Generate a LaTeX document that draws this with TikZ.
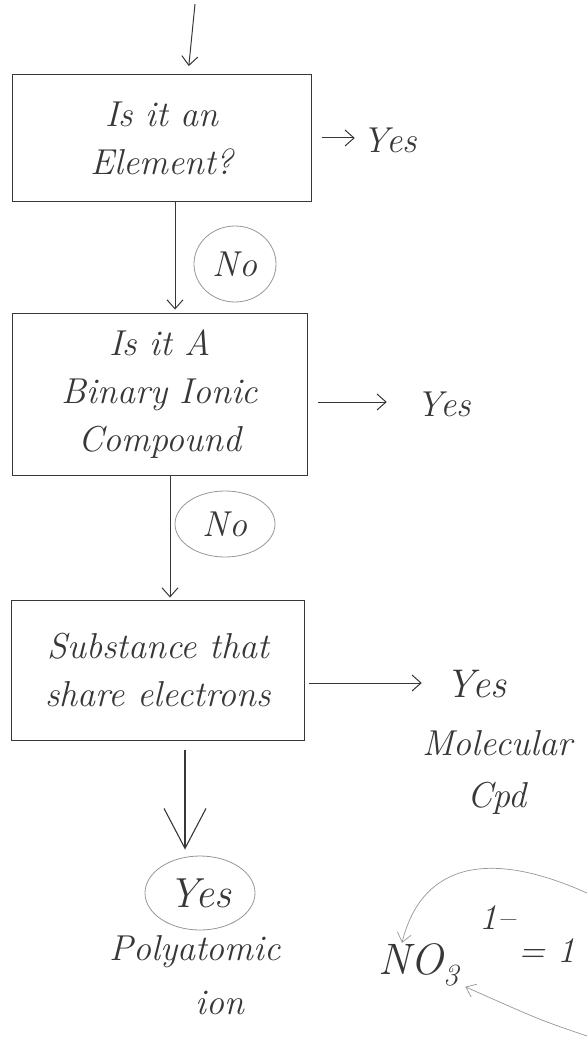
\documentclass[tikz,border=0pt]{standalone}
\usepackage{fontspec}
\usepackage{tikz}
\usetikzlibrary{arrows.meta,positioning,calc,shapes.geometric}
\definecolor{inkgray}{RGB}{55,55,55}
\definecolor{pencilgray}{RGB}{150,150,150}
\newcommand\handfont{\fontsize{36}{48}\selectfont\itshape\addfontfeatures{LetterSpace=6}}
\tikzset{
  qbox/.style={draw=inkgray,line width=0.9pt,align=center,inner sep=0pt,font=\handfont,text=inkgray},
  handtext/.style={align=center,inner sep=0pt,font=\handfont,text=inkgray},
  ring/.style={handtext,ellipse,draw=pencilgray,line width=0.8pt},
  flow/.style={-{Straight Barb[length=9pt,width=16pt]},line width=1pt,draw=inkgray},
  bigflow/.style={-{Straight Barb[length=40pt,width=42pt]},line width=1.1pt,draw=inkgray},
  penarrow/.style={-{Straight Barb[length=9pt,width=14pt]},line width=0.7pt,draw=pencilgray}
}

\begin{document}
\begin{tikzpicture}[x=1pt,y=-1pt]
  \useasboundingbox (0,0) rectangle (587,1051);
  % question boxes
  \node[qbox,minimum width=299pt,minimum height=127pt] (elem) at (162,138) {Is it an\\Element?};
  \node[qbox,minimum width=295pt,minimum height=162pt] (binary) at (160,394) {Is it A\\Binary Ionic\\Compound};
  \node[qbox,minimum width=293pt,minimum height=140pt] (share) at (158,670) {Substance that\\share electrons};
  % answers
  \node[handtext] (yes1) at (390,140) {Yes};
  \node[handtext] (yes2) at (444,404) {Yes};
  \node[handtext,font=\handfont\fontsize{40}{48}\selectfont] (yes3) at (476,684) {Yes};
  \node[handtext] (molcpd) at (497,772) {Molecular\\[4pt]Cpd};
  \node[ring,minimum width=82pt,minimum height=76pt] (no1) at (235,264) {No};
  \node[ring,minimum width=100pt,minimum height=66pt] (no2) at (225,524) {No};
  \node[ring,minimum width=110pt,minimum height=74pt,font=\handfont\fontsize{42}{48}\selectfont] (yes4) at (200,893) {Yes};
  \node[handtext] (poly) at (195,952) {Polyatomic};
  \node[handtext] (ion) at (220,1003) {ion};
  \node[handtext,anchor=base west,font=\handfont\fontsize{44}{48}\selectfont] (nitrate) at (378,974) {NO\textsubscript{3}};
  \node[handtext] (charge) at (497,918) {1--};
  \node[handtext,anchor=base west] (eqone) at (518,962) {= 1};
  \coordinate (entry) at (195,4);
  \coordinate (loopa) at (587,893);
  \coordinate (loopb) at (587,1036);
  % flow
  \draw[flow,shorten >=8pt] (entry) -- ([xshift=26pt]elem.north);
  \draw[flow,shorten >=3pt] ([xshift=13pt]elem.south) -- ([xshift=13pt]elem.south |- binary.north);
  \draw[flow,shorten >=2pt] ([xshift=10pt]binary.south) -- ([xshift=10pt]binary.south |- share.north);
  \draw[bigflow,shorten <=10pt,shorten >=6pt] ([xshift=27pt]share.south) -- ([xshift=27pt]share.south |- yes4.north);
  \draw[flow,shorten <=10pt,shorten >=8pt] (elem.east) -- (elem.east -| yes1.west);
  \draw[flow,shorten <=10pt,shorten >=30pt] ([yshift=-8pt]binary.east) -- ([yshift=-8pt]binary.east -| yes2.west);
  \draw[flow,shorten <=4pt,shorten >=24pt] ([yshift=-13pt]share.east) -- ([yshift=-13pt]share.east -| yes3.west);
  \draw[penarrow] (loopa) .. controls (480,845) and (420,870) .. ([xshift=24pt]nitrate.north west);
  \draw[penarrow] (loopb) .. controls (540,1020) .. ([xshift=6pt]nitrate.south east);
\end{tikzpicture}
\end{document}
